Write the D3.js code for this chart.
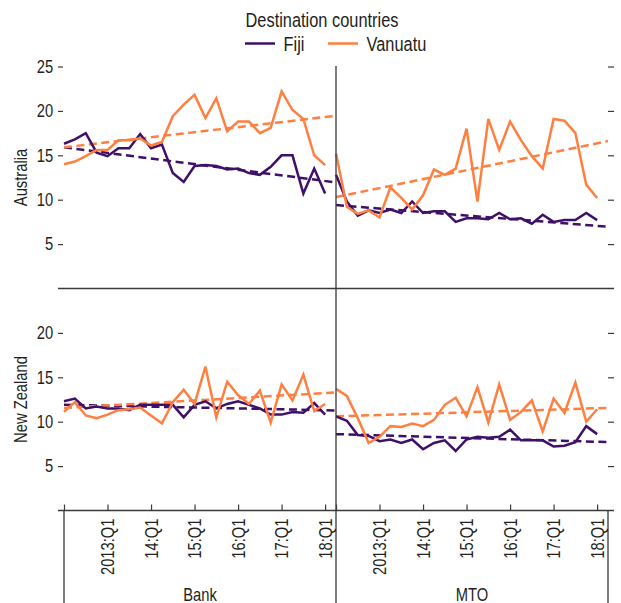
<!DOCTYPE html>
<html>
<head>
<meta charset="utf-8">
<script src="https://cdn.jsdelivr.net/npm/d3@7"></script>
<style>
  body { margin: 0; background: #fff; }
  text { font-family: "Liberation Sans", Arial, sans-serif; fill: #231f20; }
</style>
</head>
<body>
<div id="chart"></div>
<script>
// quarters 2012:Q1 .. 2018:Q1
var quarters = ["2012:Q1","2012:Q2","2012:Q3","2012:Q4","2013:Q1","2013:Q2","2013:Q3","2013:Q4",
                "2014:Q1","2014:Q2","2014:Q3","2014:Q4","2015:Q1","2015:Q2","2015:Q3","2015:Q4",
                "2016:Q1","2016:Q2","2016:Q3","2016:Q4","2017:Q1","2017:Q2","2017:Q3","2017:Q4","2018:Q1"];
var tickQuarters = ["2012:Q1","2013:Q1","2014:Q1","2015:Q1","2016:Q1","2017:Q1","2018:Q1"];
var tickLabels = ["", "2013:Q1", "14:Q1", "15:Q1", "16:Q1", "17:Q1", "18:Q1"];
var yTicksTop = [5, 10, 15, 20, 25];
var yTicksBottom = [5, 10, 15, 20];

var rows = ["Australia", "New Zealand"];
var cols = ["Bank", "MTO"];
var countries = ["Fiji", "Vanuatu"];

// Australia
var auBankFiji = [16.3,16.8,17.5,15.3,14.9,15.8,15.8,17.4,15.8,16.2,13.0,12.0,13.8,13.9,13.8,13.4,13.5,13.0,12.8,13.7,15.0,15.0,10.7,13.5,10.7];
var auBankVanuatu = [14.0,14.3,14.9,15.6,15.6,16.7,16.7,16.9,16.1,16.5,19.4,20.7,21.8,19.2,21.4,17.7,18.8,18.8,17.5,18.1,22.2,20.1,19.1,15.0,13.9];
var auMtoFiji = [12.8,9.8,8.2,8.8,8.5,8.9,8.5,9.8,8.5,8.7,8.7,7.5,7.9,7.9,7.8,8.5,7.8,7.9,7.3,8.3,7.5,7.7,7.7,8.5,7.7];
var auMtoVanuatu = [15.2,9.2,8.4,8.8,8.0,11.4,10.2,8.9,10.5,13.4,12.8,13.5,18.0,9.8,19.1,15.6,18.8,16.7,14.9,13.5,19.1,18.9,17.5,11.7,10.2];
// New Zealand
var nzBankFiji = [12.3,12.6,11.5,11.7,11.5,11.5,11.3,11.9,11.9,11.9,11.9,10.5,11.9,12.3,11.5,12.0,12.3,11.9,11.5,10.8,10.8,11.1,11.0,12.1,10.8];
var nzBankVanuatu = [11.1,12.2,10.7,10.4,10.8,11.3,11.4,11.6,10.7,9.8,12.2,13.6,12.0,16.2,10.5,14.5,13.0,12.0,13.5,9.9,14.2,12.4,15.3,11.2,12.0];
var nzMtoFiji = [10.6,10.1,8.5,8.4,7.8,8.0,7.6,8.0,6.9,7.6,7.9,6.7,8.0,8.3,8.2,8.3,9.1,7.9,7.9,7.9,7.2,7.3,7.7,9.5,8.6];
var nzMtoVanuatu = [13.7,12.9,10.4,7.6,8.3,9.5,9.4,9.8,9.5,10.2,11.9,12.7,10.6,13.9,9.9,14.2,10.2,11.1,12.4,8.9,12.6,11.0,14.4,10.0,11.4];

// linear trend, value at left and right edge of each panel
var auBankFijiTrend = [15.9, 11.95];
var auBankVanuatuTrend = [15.9, 19.45];
var auMtoFijiTrend = [9.4, 6.95];
var auMtoVanuatuTrend = [10.3, 16.6];
var nzBankFijiTrend = [11.9, 11.27];
var nzBankVanuatuTrend = [11.55, 13.3];
var nzMtoFijiTrend = [8.6, 7.7];
var nzMtoVanuatuTrend = [10.6, 11.55];

var series = {
  "Australia|Bank": [auBankFiji, auBankVanuatu, auBankFijiTrend, auBankVanuatuTrend],
  "Australia|MTO": [auMtoFiji, auMtoVanuatu, auMtoFijiTrend, auMtoVanuatuTrend],
  "New Zealand|Bank": [nzBankFiji, nzBankVanuatu, nzBankFijiTrend, nzBankVanuatuTrend],
  "New Zealand|MTO": [nzMtoFiji, nzMtoVanuatu, nzMtoFijiTrend, nzMtoVanuatuTrend]
};

var colors = {"Fiji": "#3f1067", "Vanuatu": "#ff7f40"};
var axisColor = "#3a3a3a";
var squeeze = 0.82;   // condensed look

var W = 621, H = 603;
var left = 64, panelW = 272, panelTop = 66.5, panelH = 222;

var svg = d3.select("#chart").append("svg")
            .attr("width", W)
            .attr("height", H);

// text with a narrow face: translate, rotate, then squeeze along the text
function label(x0, y0, rot, anchor, str, size, sq){
  return svg.append("text")
            .attr("transform", "translate(" + x0 + "," + y0 + ") rotate(" + rot + ") scale(" + (sq || squeeze) + ",1)")
            .attr("text-anchor", anchor)
            .attr("font-size", size || 18)
            .text(str);
}

var x = d3.scaleLinear().domain([0, quarters.length]).range([0, panelW]);
var y = d3.scaleLinear().domain([0, 25]).range([panelH, 0]);

var line = d3.line()
             .x(function(d, i){ return x(i); })
             .y(function(d){ return y(d); });

var trend = d3.line()
              .x(function(d, i){ return i === 0 ? x(0) : x(quarters.length); })
              .y(function(d){ return y(d); });

rows.forEach(function(r, ri){
  cols.forEach(function(c, ci){
    var g = svg.append("g")
               .attr("transform", "translate(" + (left + ci*panelW) + "," + (panelTop + ri*panelH) + ")");
    var s = series[r + "|" + c];
    countries.forEach(function(k, ki){
      g.append("path")
       .attr("d", trend(s[ki+2]))
       .attr("fill", "none")
       .attr("stroke", colors[k])
       .attr("stroke-width", 2.5)
       .attr("stroke-dasharray", "8,4.5");
    });
    countries.forEach(function(k, ki){
      g.append("path")
       .attr("d", line(s[ki]))
       .attr("fill", "none")
       .attr("stroke", colors[k])
       .attr("stroke-width", 2.5);
    });
  });

  // y axes
  var ticks = ri === 0 ? yTicksTop : yTicksBottom;
  var ga = svg.append("g")
              .attr("transform", "translate(" + (left - 1) + "," + (panelTop + ri*panelH) + ")")
              .call(d3.axisLeft(y).tickValues(ticks).tickSize(5).tickPadding(7));
  ga.select(".domain").remove();
  ga.selectAll("line").attr("stroke", axisColor).attr("stroke-width", 1.2);
  ga.selectAll("text")
    .attr("font-size", 18)
    .attr("font-family", null)
    .attr("transform", "scale(" + squeeze + ",1)")
    .style("fill", "#231f20");

  var gr = svg.append("g")
              .attr("transform", "translate(" + (left + 2*panelW) + "," + (panelTop + ri*panelH) + ")")
              .call(d3.axisRight(y).tickValues(ticks).tickSize(6).tickFormat(""));
  gr.select(".domain").remove();
  gr.selectAll("line").attr("stroke", axisColor).attr("stroke-width", 1.2);

  label(27, panelTop + ri*panelH + panelH/2, -90, "middle", r);
});

// frame lines
var frame = svg.append("g").attr("stroke", axisColor).attr("stroke-width", 1.3);
[panelTop + panelH, panelTop + 2*panelH].forEach(function(yy){
  frame.append("line").attr("x1", left - 6).attr("x2", left + 2*panelW + 6)
       .attr("y1", yy).attr("y2", yy);
});
frame.append("line").attr("x1", left + panelW).attr("x2", left + panelW)
     .attr("y1", panelTop - 0.5).attr("y2", H);
[left, left + 2*panelW].forEach(function(xx){
  frame.append("line").attr("x1", xx).attr("x2", xx)
       .attr("y1", panelTop + 2*panelH).attr("y2", H);
});

// x axes
cols.forEach(function(c, ci){
  var ox = left + ci*panelW;
  var gx = svg.append("g")
              .attr("transform", "translate(" + ox + "," + (panelTop + 2*panelH) + ")")
              .call(d3.axisTop(x).tickValues(tickQuarters.map(function(q){ return quarters.indexOf(q); }))
                                 .tickSize(6).tickFormat(""));
  gx.select(".domain").remove();
  gx.selectAll("line").attr("stroke", axisColor).attr("stroke-width", 1.2);

  tickQuarters.forEach(function(q, i){
    if(tickLabels[i] === "") return;
    label(ox + x(quarters.indexOf(q)) + 6.5, panelTop + 2*panelH + 8, -90, "end", tickLabels[i]);
  });

  label(ox + panelW/2, 601, 0, "middle", c);
});

// legend
label(322, 26.5, 0, "middle", "Destination countries", 19.5, 0.84);

var legX = [245, 328];
countries.forEach(function(k, ki){
  svg.append("line")
     .attr("x1", legX[ki]).attr("x2", legX[ki] + 30)
     .attr("y1", 43.5).attr("y2", 43.5)
     .attr("stroke", colors[k])
     .attr("stroke-width", 2.5);
  label(legX[ki] + 38.5, 50.5, 0, "start", k, 19.5, 0.84);
});
</script>
</body>
</html>
